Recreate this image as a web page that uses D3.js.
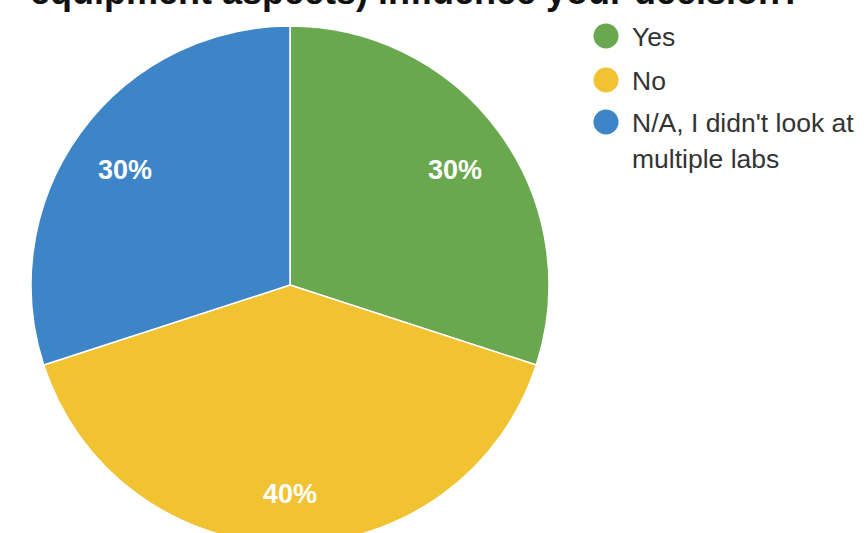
<!DOCTYPE html>
<html>
<head>
<meta charset="utf-8">
<script src="https://cdn.jsdelivr.net/npm/d3@7"></script>
<style>
  body { margin: 0; background: #fff; }
  svg { display: block; font-family: "Liberation Sans", Arial, sans-serif; }
</style>
</head>
<body>
<svg width="867" height="533"></svg>
<script>
const categories = ["Yes", "No", "N/A, I didn't look at multiple labs"];
const values = [30, 40, 30];
const legendLines = [["Yes"], ["No"], ["N/A, I didn't look at", "multiple labs"]];
const colors = ["#6aa84f", "#f1c232", "#3d85c6"];

const svg = d3.select("svg");

// Title (cut off at the top of the picture)
svg.append("text")
   .attr("x", 416)
   .attr("y", 4)
   .attr("text-anchor", "middle")
   .attr("font-size", "36px")
   .attr("font-weight", "bold")
   .attr("fill", "#111")
   .text("equipment aspects) influence your decision?");

const cx = 290, cy = 285, radius = 259;

const pie = d3.pie().sort(null).value(d => d)(values);
const arc = d3.arc().innerRadius(0).outerRadius(radius);
const labelArc = d3.arc().innerRadius(204).outerRadius(204);

const g = svg.append("g").attr("transform", `translate(${cx},${cy})`);

g.selectAll("path")
   .data(pie)
   .join("path")
   .attr("d", arc)
   .attr("fill", (d, i) => colors[i])
   .attr("stroke", "#fff")
   .attr("stroke-width", 1.5);

const total = d3.sum(values);
g.selectAll("text")
   .data(pie)
   .join("text")
   .attr("transform", d => {
     const [x, y] = labelArc.centroid(d);
     return `translate(${x},${y + 4})`;
   })
   .attr("text-anchor", "middle")
   .attr("dy", "0.36em")
   .attr("fill", "#fff")
   .attr("font-size", "27px")
   .attr("font-weight", "bold")
   .text(d => Math.round(d.data / total * 100) + "%");

// Legend
const legendY = [36, 80, 122];
const legend = svg.append("g");
categories.forEach((c, i) => {
  legend.append("circle")
     .attr("cx", 606)
     .attr("cy", legendY[i])
     .attr("r", 12.5)
     .attr("fill", colors[i]);
  const t = legend.append("text")
     .attr("x", 632)
     .attr("y", legendY[i])
     .attr("font-size", "26.5px")
     .attr("fill", "#333");
  legendLines[i].forEach((line, j) => {
    t.append("tspan")
     .attr("x", 632)
     .attr("dy", j === 0 ? "0.36em" : "36px")
     .text(line);
  });
});
</script>
</body>
</html>
